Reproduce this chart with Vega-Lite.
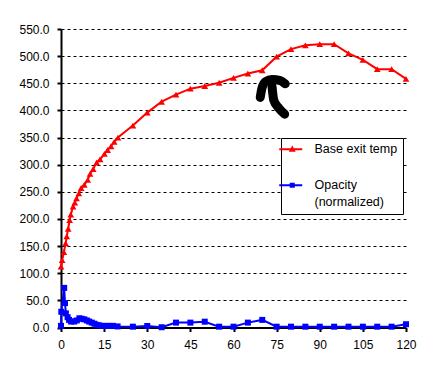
{
  "$schema": "https://vega.github.io/schema/vega-lite/v6.json",
  "width": 345,
  "height": 298.5,
  "autosize": {"type": "none"},
  "padding": {"left": 61, "top": 29, "right": 18, "bottom": 47.5},
  "background": "white",
  "config": {
    "view": {"stroke": null},
    "font": "Liberation Sans",
    "axis": {"labelFont": "Liberation Sans", "labelFontSize": 12, "labelColor": "black", "domainColor": "black", "domainWidth": 2, "tickColor": "black", "tickWidth": 2, "title": null}
  },
  "datasets": {
    "series": [
      {"series": "Base exit temp", "t": 0, "v": 112}, {"series": "Base exit temp", "t": 0.4, "v": 124}, {"series": "Base exit temp", "t": 1, "v": 139}, {"series": "Base exit temp", "t": 1.6, "v": 155}, {"series": "Base exit temp", "t": 2, "v": 168}, {"series": "Base exit temp", "t": 2.5, "v": 182}, {"series": "Base exit temp", "t": 3, "v": 198}, {"series": "Base exit temp", "t": 3.4, "v": 208}, {"series": "Base exit temp", "t": 4.2, "v": 223}, {"series": "Base exit temp", "t": 4.8, "v": 230}, {"series": "Base exit temp", "t": 5.4, "v": 238}, {"series": "Base exit temp", "t": 6.2, "v": 247}, {"series": "Base exit temp", "t": 7, "v": 257}, {"series": "Base exit temp", "t": 8.1, "v": 263}, {"series": "Base exit temp", "t": 9.3, "v": 272}, {"series": "Base exit temp", "t": 10.1, "v": 283}, {"series": "Base exit temp", "t": 11.2, "v": 292}, {"series": "Base exit temp", "t": 12.4, "v": 304}, {"series": "Base exit temp", "t": 13.6, "v": 310}, {"series": "Base exit temp", "t": 15.1, "v": 320}, {"series": "Base exit temp", "t": 16.2, "v": 327}, {"series": "Base exit temp", "t": 17.4, "v": 334}, {"series": "Base exit temp", "t": 18.5, "v": 342}, {"series": "Base exit temp", "t": 19.8, "v": 350}, {"series": "Base exit temp", "t": 25, "v": 372}, {"series": "Base exit temp", "t": 30, "v": 396}, {"series": "Base exit temp", "t": 35, "v": 416}, {"series": "Base exit temp", "t": 40, "v": 429}, {"series": "Base exit temp", "t": 45, "v": 440}, {"series": "Base exit temp", "t": 50, "v": 445}, {"series": "Base exit temp", "t": 55, "v": 451}, {"series": "Base exit temp", "t": 60, "v": 460}, {"series": "Base exit temp", "t": 65, "v": 468}, {"series": "Base exit temp", "t": 70, "v": 474}, {"series": "Base exit temp", "t": 75, "v": 499}, {"series": "Base exit temp", "t": 80, "v": 513}, {"series": "Base exit temp", "t": 85, "v": 520}, {"series": "Base exit temp", "t": 90, "v": 522}, {"series": "Base exit temp", "t": 95, "v": 522}, {"series": "Base exit temp", "t": 100, "v": 505}, {"series": "Base exit temp", "t": 105, "v": 493}, {"series": "Base exit temp", "t": 110, "v": 476}, {"series": "Base exit temp", "t": 115, "v": 476}, {"series": "Base exit temp", "t": 120, "v": 458},
      {"series": "Opacity (normalized)", "t": 0, "v": 3}, {"series": "Opacity (normalized)", "t": 0.1, "v": 29}, {"series": "Opacity (normalized)", "t": 1.1, "v": 73}, {"series": "Opacity (normalized)", "t": 1.4, "v": 45}, {"series": "Opacity (normalized)", "t": 1.7, "v": 26}, {"series": "Opacity (normalized)", "t": 2.3, "v": 19}, {"series": "Opacity (normalized)", "t": 2.8, "v": 14}, {"series": "Opacity (normalized)", "t": 3.5, "v": 11}, {"series": "Opacity (normalized)", "t": 4.6, "v": 11}, {"series": "Opacity (normalized)", "t": 5.5, "v": 13}, {"series": "Opacity (normalized)", "t": 6.4, "v": 17}, {"series": "Opacity (normalized)", "t": 7.2, "v": 16}, {"series": "Opacity (normalized)", "t": 8.1, "v": 15}, {"series": "Opacity (normalized)", "t": 9, "v": 13}, {"series": "Opacity (normalized)", "t": 9.8, "v": 11}, {"series": "Opacity (normalized)", "t": 10.7, "v": 9}, {"series": "Opacity (normalized)", "t": 11.6, "v": 7}, {"series": "Opacity (normalized)", "t": 12.4, "v": 5}, {"series": "Opacity (normalized)", "t": 13.3, "v": 4}, {"series": "Opacity (normalized)", "t": 14.5, "v": 3}, {"series": "Opacity (normalized)", "t": 15.7, "v": 3}, {"series": "Opacity (normalized)", "t": 16.9, "v": 3}, {"series": "Opacity (normalized)", "t": 18.1, "v": 3}, {"series": "Opacity (normalized)", "t": 19.7, "v": 2}, {"series": "Opacity (normalized)", "t": 25, "v": 1.5}, {"series": "Opacity (normalized)", "t": 30, "v": 2.8}, {"series": "Opacity (normalized)", "t": 35, "v": 0.5}, {"series": "Opacity (normalized)", "t": 40, "v": 9}, {"series": "Opacity (normalized)", "t": 45, "v": 9}, {"series": "Opacity (normalized)", "t": 50, "v": 10.7}, {"series": "Opacity (normalized)", "t": 55, "v": 1.5}, {"series": "Opacity (normalized)", "t": 60, "v": 1.5}, {"series": "Opacity (normalized)", "t": 65, "v": 9}, {"series": "Opacity (normalized)", "t": 70, "v": 14}, {"series": "Opacity (normalized)", "t": 75, "v": 1.5}, {"series": "Opacity (normalized)", "t": 80, "v": 1.5}, {"series": "Opacity (normalized)", "t": 85, "v": 1.5}, {"series": "Opacity (normalized)", "t": 90, "v": 1.5}, {"series": "Opacity (normalized)", "t": 95, "v": 1.5}, {"series": "Opacity (normalized)", "t": 100, "v": 1.5}, {"series": "Opacity (normalized)", "t": 105, "v": 1.5}, {"series": "Opacity (normalized)", "t": 110, "v": 1.5}, {"series": "Opacity (normalized)", "t": 115, "v": 1.5}, {"series": "Opacity (normalized)", "t": 120, "v": 6}
    ],
    "scribble": [
      {"stroke": "a", "i": 1, "t": 69.3, "v": 424}, {"stroke": "a", "i": 2, "t": 69.9, "v": 441}, {"stroke": "a", "i": 3, "t": 71.1, "v": 453}, {"stroke": "a", "i": 4, "t": 73.4, "v": 457}, {"stroke": "a", "i": 5, "t": 76.3, "v": 455}, {"stroke": "a", "i": 6, "t": 78.0, "v": 449},
      {"stroke": "b", "i": 1, "t": 73.4, "v": 444}, {"stroke": "b", "i": 2, "t": 74.0, "v": 419}, {"stroke": "b", "i": 3, "t": 75.8, "v": 404}, {"stroke": "b", "i": 4, "t": 77.8, "v": 393}
    ]
  },
  "encoding": {
    "x": {"field": "t", "type": "quantitative", "scale": {"domain": [0, 120], "nice": false, "zero": false},
      "axis": {"values": [0, 15, 30, 45, 60, 75, 90, 105, 120], "grid": false, "tickSize": 4, "labelPadding": 8, "labelFlush": false}},
    "y": {"field": "v", "type": "quantitative", "scale": {"domain": [0, 550], "nice": false},
      "axis": {"values": [0, 50, 100, 150, 200, 250, 300, 350, 400, 450, 500, 550], "format": ".1f", "grid": true, "gridColor": "black", "gridDash": [3, 3], "gridWidth": 1, "tickSize": 4, "labelPadding": 8}}
  },
  "layer": [
    {
      "data": {"name": "series"},
      "mark": {"type": "line", "strokeWidth": 2},
      "encoding": {
        "color": {"field": "series", "type": "nominal",
          "scale": {"domain": ["Base exit temp", "Opacity (normalized)"], "range": ["#ff0000", "#0000ff"]},
          "legend": {
            "orient": "none", "legendX": 220, "legendY": 109, "title": null,
            "strokeColor": "black", "fillColor": "white", "padding": 5,
            "labelFont": "Liberation Sans", "labelFontSize": 12.5, "labelColor": "black",
            "symbolSize": 100, "labelOffset": 16, "rowPadding": 23,
            "labelExpr": "datum.label == 'Opacity (normalized)' ? ['Opacity', '(normalized)'] : datum.label",
            "encode": {
              "symbols": {"update": {
                "shape": {"signal": "datum.value == 'Base exit temp' ? 'M-2.6,0H2.0M-0.35,0.3L0,-0.35L0.35,0.3Z' : 'M-2.6,0H2.0M-0.3,-0.3H0.3V0.3H-0.3Z'"},
                "fill": {"signal": "datum.value == 'Base exit temp' ? '#ff0000' : '#0000ff'"},
                "stroke": {"signal": "datum.value == 'Base exit temp' ? '#ff0000' : '#0000ff'"},
                "strokeWidth": {"value": 2}
              }},
              "labels": {"update": {"lineHeight": {"value": 17}}}
            }
          }},
        "order": {"field": "t"}
      }
    },
    {
      "data": {"name": "series"},
      "transform": [{"filter": "datum.series == 'Base exit temp'"}],
      "mark": {"type": "point", "filled": true, "opacity": 1, "size": 45, "shape": "triangle-up", "color": "#ff0000"}
    },
    {
      "data": {"name": "series"},
      "transform": [{"filter": "datum.series == 'Opacity (normalized)'"}],
      "mark": {"type": "point", "filled": true, "opacity": 1, "size": 36, "shape": "square", "color": "#0000ff"}
    },
    {
      "data": {"name": "scribble"},
      "mark": {"type": "line", "color": "black", "strokeWidth": 9, "strokeCap": "round", "strokeJoin": "round", "interpolate": "monotone"},
      "encoding": {"detail": {"field": "stroke", "type": "nominal"}, "order": {"field": "i"}}
    }
  ]
}
